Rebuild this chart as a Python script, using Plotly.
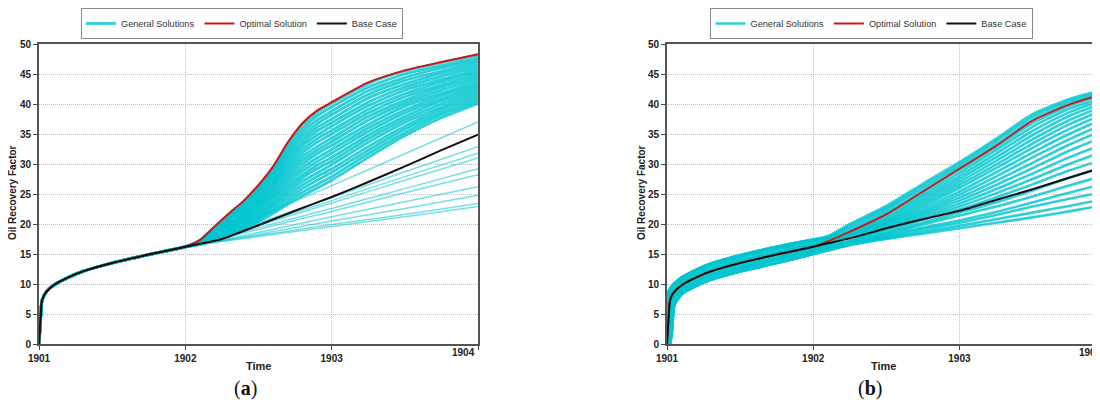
import plotly.graph_objects as go

# ---------------- data ----------------
# common history (years / recovery factor %)
hist_t_a = [1901, 1901.01, 1901.02, 1901.05, 1901.1, 1901.2, 1901.3, 1901.5, 1901.75, 1902]
hist_v_a = [0, 4.0, 7.2, 8.7, 9.8, 11.1, 12.1, 13.5, 14.9, 16.2]

# panel (a) forecast
fut_t_a = [1902.1, 1902.2, 1902.3, 1902.4, 1902.5, 1902.6, 1902.7, 1902.8, 1902.9, 1903, 1903.25, 1903.5, 1903.75, 1904]
optimal_a = [17.3, 19.6, 21.8, 23.9, 26.5, 29.6, 33.6, 36.8, 38.9, 40.3, 43.6, 45.6, 47.0, 48.3]
general_dense_a = [
    [17.3, 19.5, 21.7, 23.8, 26.3, 29.4, 33.3, 36.5, 38.6, 40.1, 43.4, 45.5, 46.9, 48.1],
    [17.3, 19.4, 21.5, 23.6, 26.0, 29.0, 32.8, 35.9, 38.0, 39.5, 42.8, 45.0, 46.4, 47.7],
    [17.2, 19.3, 21.3, 23.3, 25.7, 28.6, 32.3, 35.3, 37.3, 38.8, 42.2, 44.4, 46.0, 47.3],
    [17.2, 19.2, 21.2, 23.1, 25.4, 28.3, 31.8, 34.7, 36.7, 38.2, 41.6, 43.9, 45.5, 46.9],
    [17.2, 19.1, 21.0, 22.9, 25.1, 27.9, 31.3, 34.1, 36.1, 37.5, 41.0, 43.3, 45.1, 46.5],
    [17.1, 18.9, 20.8, 22.7, 24.8, 27.5, 30.8, 33.5, 35.5, 36.9, 40.3, 42.8, 44.6, 46.1],
    [17.1, 18.8, 20.6, 22.4, 24.5, 27.1, 30.3, 33.0, 34.8, 36.3, 39.7, 42.3, 44.1, 45.7],
    [17.1, 18.7, 20.5, 22.2, 24.2, 26.7, 29.8, 32.4, 34.2, 35.6, 39.1, 41.7, 43.7, 45.3],
    [17.0, 18.6, 20.3, 22.0, 23.9, 26.4, 29.3, 31.8, 33.6, 35.0, 38.5, 41.2, 43.2, 44.9],
    [17.0, 18.5, 20.1, 21.7, 23.6, 26.0, 28.8, 31.2, 32.9, 34.3, 37.9, 40.6, 42.8, 44.5],
    [17.0, 18.4, 20.0, 21.5, 23.4, 25.6, 28.3, 30.6, 32.3, 33.7, 37.3, 40.1, 42.3, 44.1],
    [16.9, 18.3, 19.8, 21.3, 23.1, 25.2, 27.8, 30.0, 31.7, 33.1, 36.6, 39.6, 41.8, 43.7],
    [16.9, 18.2, 19.6, 21.0, 22.8, 24.8, 27.3, 29.4, 31.0, 32.4, 36.0, 39.0, 41.4, 43.3],
    [16.8, 18.1, 19.4, 20.8, 22.5, 24.5, 26.8, 28.8, 30.4, 31.8, 35.4, 38.5, 40.9, 42.9],
    [16.8, 18.0, 19.3, 20.6, 22.2, 24.1, 26.3, 28.2, 29.8, 31.1, 34.8, 37.9, 40.5, 42.5],
    [16.8, 17.9, 19.1, 20.4, 21.9, 23.7, 25.8, 27.7, 29.2, 30.5, 34.2, 37.4, 40.0, 42.1],
    [16.7, 17.7, 18.9, 20.1, 21.6, 23.3, 25.3, 27.1, 28.5, 29.9, 33.6, 36.9, 39.5, 41.7],
    [16.7, 17.6, 18.7, 19.9, 21.3, 23.0, 24.8, 26.5, 27.9, 29.2, 32.9, 36.3, 39.1, 41.3],
    [16.6, 17.5, 18.5, 19.7, 21.0, 22.6, 24.3, 25.9, 27.3, 28.6, 32.3, 35.8, 38.6, 40.9],
    [16.6, 17.4, 18.4, 19.4, 20.7, 22.2, 23.8, 25.3, 26.6, 27.9, 31.7, 35.2, 38.2, 40.5],
    [16.6, 17.3, 18.2, 19.2, 20.4, 21.8, 23.3, 24.7, 26.0, 27.3, 31.1, 34.7, 37.7, 40.1],
]
sparse_t_a = [1902.1, 1902.5, 1903, 1903.5, 1904]
general_sparse_a = [
    [16.9, 21.2, 26.4, 31.7, 37.0],
    [16.8, 20.2, 24.4, 28.7, 32.9],
    [16.8, 20.0, 23.9, 27.9, 31.8],
    [16.8, 19.8, 23.5, 27.3, 31.0],
    [16.7, 19.4, 22.6, 25.9, 29.2],
    [16.7, 19.1, 22.1, 25.2, 28.2],
    [16.6, 18.6, 21.2, 23.7, 26.2],
    [16.6, 18.3, 20.5, 22.6, 24.8],
    [16.6, 18.1, 19.9, 21.6, 23.4],
    [16.6, 17.9, 19.6, 21.2, 22.9],
]
base_t = [1902.1, 1902.25, 1902.5, 1902.75, 1903, 1903.25, 1903.5, 1903.75, 1904]
base_a = [16.7, 17.5, 19.8, 22.2, 24.5, 27.0, 29.6, 32.3, 34.9]

# panel (b)
hist_t_b = [1901, 1901.01, 1901.02, 1901.035, 1901.05, 1901.1, 1901.2, 1901.3, 1901.5, 1901.75, 1902]
hist_v_b = [0, 4.0, 7.2, 8.2, 8.7, 9.8, 11.1, 12.1, 13.5, 14.9, 16.2]
hist_general_b = [
    [7.8, 8.7, 9.2, 9.7, 10.1, 11.1, 12.4, 13.4, 14.8, 16.2, 17.4],
    [5.5, 7.9, 8.6, 9.2, 9.6, 10.7, 12.0, 13.0, 14.4, 15.8, 17.1],
    [2.5, 6.0, 7.9, 8.7, 9.1, 10.2, 11.5, 12.5, 13.9, 15.3, 16.6],
    [0, 3.0, 6.5, 8.0, 8.6, 9.7, 11.1, 12.1, 13.5, 14.9, 16.2],
    [0, 1.0, 4.0, 7.2, 8.1, 9.2, 10.6, 11.6, 13.0, 14.4, 15.8],
    [0, 0, 1.5, 5.5, 7.5, 8.8, 10.2, 11.2, 12.6, 14.0, 15.4],
    [0, 0, 0, 2.5, 6.5, 8.3, 9.7, 10.7, 12.1, 13.5, 15.0],
]
fut_t_b = [1902.1, 1902.25, 1902.5, 1902.75, 1903, 1903.25, 1903.5, 1903.75, 1904]
optimal_b = [17.1, 18.7, 21.6, 25.4, 29.2, 33.0, 37.2, 39.9, 41.8]
base_b = [16.8, 17.6, 19.3, 20.8, 22.2, 24.0, 25.8, 27.7, 29.6]
general_b = [
    [18.0, 20.0, 23.0, 26.7, 30.3, 34.2, 38.3, 40.8, 42.5],
    [17.8, 19.7, 22.7, 26.3, 29.9, 33.8, 37.9, 40.5, 42.2],
    [17.7, 19.4, 22.4, 25.9, 29.5, 33.3, 37.4, 40.1, 41.9],
    [17.5, 19.0, 22.0, 25.4, 29.0, 32.8, 36.8, 39.7, 41.6],
    [17.4, 18.8, 21.7, 25.0, 28.5, 32.3, 36.2, 39.2, 41.2],
    [17.3, 18.6, 21.3, 24.6, 28.0, 31.7, 35.5, 38.6, 40.8],
    [17.2, 18.4, 21.0, 24.2, 27.5, 31.1, 34.8, 38.0, 40.3],
    [17.1, 18.3, 20.7, 23.8, 27.0, 30.5, 34.1, 37.3, 39.8],
    [17.0, 18.2, 20.5, 23.4, 26.5, 29.9, 33.4, 36.6, 39.2],
    [16.9, 18.1, 20.3, 23.0, 26.0, 29.3, 32.7, 35.8, 38.5],
    [16.8, 18.0, 20.1, 22.6, 25.4, 28.6, 31.9, 35.0, 37.7],
    [16.8, 17.9, 19.9, 22.2, 24.9, 27.9, 31.1, 34.1, 36.8],
    [16.7, 17.8, 19.7, 21.9, 24.4, 27.2, 30.2, 33.2, 35.8],
    [16.4, 17.2, 19.4, 21.6, 23.9, 26.5, 29.3, 32.2, 34.7],
    [16.3, 17.1, 19.2, 21.3, 23.4, 25.8, 28.4, 31.1, 33.5],
    [16.3, 17.0, 19.0, 21.0, 22.9, 25.1, 27.5, 30.0, 32.2],
    [16.0, 16.9, 18.6, 20.7, 22.4, 24.4, 26.6, 28.9, 30.9],
    [16.0, 16.8, 18.4, 20.2, 21.9, 23.6, 25.6, 27.7, 29.6],
    [15.9, 16.7, 18.2, 19.9, 21.4, 22.9, 24.6, 26.4, 28.2],
    [15.7, 16.6, 18.0, 19.4, 20.6, 22.0, 23.6, 25.2, 26.8],
    [15.7, 16.6, 17.8, 19.1, 20.2, 21.5, 22.9, 24.2, 25.4],
    [15.6, 16.5, 17.6, 18.7, 19.7, 20.8, 21.9, 23.0, 24.2],
    [15.6, 16.5, 17.5, 18.4, 19.3, 20.2, 21.1, 22.1, 23.2],
]
hist_idx_b = [0, 0, 0, 1, 1, 1, 2, 2, 2, 3, 3, 3, 3, 4, 4, 4, 5, 5, 5, 6, 6, 6, 6]

legend_names = ["General Solutions", "Optimal Solution", "Base Case"]
year_ticks = [1901, 1902, 1903, 1904]
year_labels = ["1901", "1902", "1903", ""]   # last label is placed right-aligned (see annotations)
last_year_label = "1904"
y_ticks = [0, 5, 10, 15, 20, 25, 30, 35, 40, 45, 50]

# ---------------- styling ----------------
W, H = 1100, 403
OFF = 8  # the page body margin offsets the figure by 8 px
CYAN = "rgba(0,198,208,0.82)"
CYAN_LIGHT = "rgba(0,198,208,0.55)"
RED = "#D41414"
BLACK = "#111111"
FONT = "Liberation Sans, Arial, sans-serif"
SPL = dict(shape="spline", smoothing=0.6)


def px_x(p):
    return (p - OFF) / W


def px_y(p):
    return (H - (p - OFF)) / H


fig = go.Figure()

# ---- panel (a) ----
first = True
for g in general_dense_a:
    fig.add_trace(go.Scatter(
        x=hist_t_a + fut_t_a, y=hist_v_a + g, mode="lines",
        line=dict(color=CYAN, width=2.8, **SPL),
        name=legend_names[0], legendgroup="g", showlegend=first,
        legend="legend", xaxis="x", yaxis="y", hoverinfo="skip"))
    first = False
for g in general_sparse_a:
    fig.add_trace(go.Scatter(
        x=hist_t_a + sparse_t_a, y=hist_v_a + g, mode="lines",
        line=dict(color=CYAN_LIGHT, width=1.5, **SPL),
        name=legend_names[0], legendgroup="g", showlegend=False,
        legend="legend", xaxis="x", yaxis="y", hoverinfo="skip"))
fig.add_trace(go.Scatter(
    x=hist_t_a + fut_t_a, y=hist_v_a + optimal_a, mode="lines",
    line=dict(color=RED, width=2, **SPL),
    name=legend_names[1], legend="legend", xaxis="x", yaxis="y"))
fig.add_trace(go.Scatter(
    x=hist_t_a + base_t, y=hist_v_a + base_a, mode="lines",
    line=dict(color=BLACK, width=2, **SPL),
    name=legend_names[2], legend="legend", xaxis="x", yaxis="y"))

# ---- panel (b) ----
for i, g in enumerate(general_b):
    h = hist_general_b[hist_idx_b[i]]
    fig.add_trace(go.Scatter(
        x=hist_t_b + fut_t_b, y=h + g, mode="lines",
        line=dict(color=CYAN, width=2.6, **SPL),
        name=legend_names[0], showlegend=(i == 0),
        legend="legend2", xaxis="x2", yaxis="y2", hoverinfo="skip"))
fig.add_trace(go.Scatter(
    x=hist_t_b + fut_t_b, y=hist_v_b + optimal_b, mode="lines",
    line=dict(color=RED, width=1.8, **SPL),
    name=legend_names[1], legend="legend2", xaxis="x2", yaxis="y2"))
fig.add_trace(go.Scatter(
    x=hist_t_b + fut_t_b, y=hist_v_b + base_b, mode="lines",
    line=dict(color=BLACK, width=2, **SPL),
    name=legend_names[2], legend="legend2", xaxis="x2", yaxis="y2"))

tickfont = dict(family=FONT, size=10, color="#222", weight="bold")
grid = dict(showgrid=True, gridcolor="#bdbdbd", griddash="1px,1px", gridwidth=1, zeroline=False,
            automargin=False)


def xax(domain, rng):
    return dict(domain=domain, range=rng, tickvals=year_ticks, ticktext=year_labels,
                ticks="outside", ticklen=4, tickcolor="#444", tickfont=tickfont,
                showline=True, linecolor="#555", linewidth=2, mirror=True, **grid)


def yax(domain, mirror, anchor):
    return dict(domain=domain, range=[0, 50], tickvals=y_ticks, ticks="outside", ticklen=4,
                tickcolor="#444", tickfont=tickfont, showline=True, linecolor="#555",
                linewidth=2, mirror=mirror, anchor=anchor, **grid)


ydom = [px_y(344), px_y(44)]
legend_style = dict(orientation="h", xanchor="center", yanchor="top", y=px_y(8),
                    bgcolor="white", bordercolor="#8a8a8a", borderwidth=1,
                    font=dict(family=FONT, size=9.2, color="#333"),
                    itemwidth=30, tracegroupgap=0)

# right panel runs past the page edge: 1904 sits at ~1105 px
x2_end = 1901 + (W + OFF - 667) / 146.2

fig.update_layout(
    width=W, height=H, margin=dict(l=0, r=0, t=0, b=0, autoexpand=False),
    paper_bgcolor="white", plot_bgcolor="white",
    xaxis=dict(**xax([px_x(39), px_x(478)], [1901, 1904]), anchor="y"),
    yaxis=yax(ydom, True, "x"),
    xaxis2=dict(**xax([px_x(667), 1.0], [1901, x2_end]), anchor="y2"),
    yaxis2=yax(ydom, False, "x2"),
    legend=dict(x=px_x(242), **legend_style),
    legend2=dict(x=px_x(871), **legend_style),
    showlegend=True,
)

ann = []
for cx, ylab_x, lab, last_x in [(258, 12, "a", 477), (883, 641, "b", 1104)]:
    ann.append(dict(text="<b>Oil Recovery Factor</b>", x=px_x(ylab_x), y=px_y(193), xref="paper", yref="paper",
                    xanchor="center", yanchor="middle",
                    textangle=-90, showarrow=False, font=dict(family=FONT, size=10, color="#222")))
    ann.append(dict(text="<b>Time</b>", x=px_x(cx), y=px_y(366), xref="paper", yref="paper",
                    xanchor="center", yanchor="middle",
                    showarrow=False, font=dict(family=FONT, size=11, color="#222")))
    ann.append(dict(text="(<b>%s</b>)" % lab, x=px_x(cx - 13), y=px_y(388), xref="paper", yref="paper",
                    xanchor="center", yanchor="middle",
                    showarrow=False, font=dict(family="Liberation Serif, DejaVu Serif, serif", size=20, color="#111")))
    ann.append(dict(text=last_year_label, x=px_x(last_x), y=px_y(352), xref="paper", yref="paper",
                    xanchor="right", yanchor="middle", showarrow=False, font=tickfont))
fig.update_layout(annotations=ann)

fig.write_html("out.html")
